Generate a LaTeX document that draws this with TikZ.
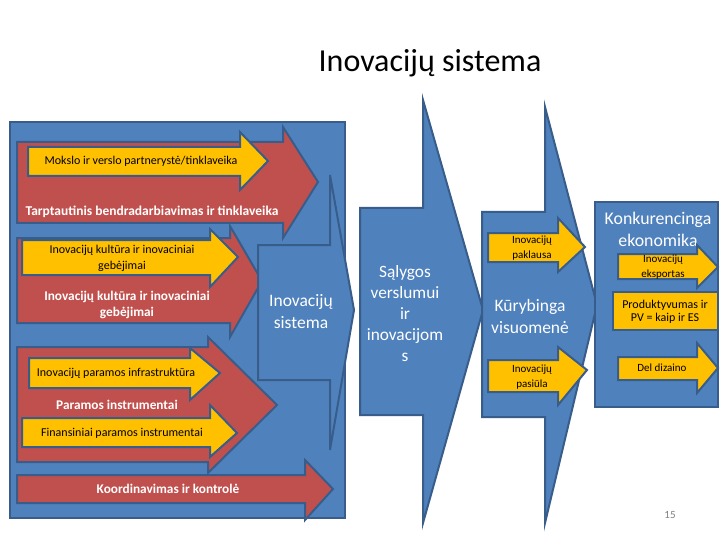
\documentclass[tikz,border=0pt]{standalone}
\usepackage{fontspec}
\setmainfont{Carlito}
\definecolor{bfill}{HTML}{4F81BD}
\definecolor{bline}{HTML}{385D8A}
\definecolor{rfill}{HTML}{C0504D}
\definecolor{yfill}{HTML}{FFC000}
\tikzset{
  bluesh/.style={fill=bfill,draw=bline,line width=2pt,line join=miter},
  redsh/.style={fill=rfill,draw=bline,line width=2pt,line join=miter},
  yelsh/.style={fill=yfill,draw=bline,line width=2pt,line join=miter},
  wtxt/.style={text=white,align=center,inner sep=0pt},
  btxt/.style={text=black,align=center,inner sep=0pt},
}
% style, x1, ytop, x2, ybot, headtop, headbot, tipx, tipy
\newcommand{\blockarrow}[9]{%
  \draw[#1] (#2,#3) -- (#4,#3) -- (#4,#6) -- (#8,#9) -- (#4,#7) -- (#4,#5) -- (#2,#5) -- cycle;}
\begin{document}
\begin{tikzpicture}[x=1pt,y=-1pt]
\useasboundingbox (0,0) rectangle (720,540);
\fill[white] (0,0) rectangle (720,540);
\node[text=black,inner sep=0pt,font=\fontsize{32}{36}\selectfont] (title) at (430,63) {Inovacijų sistema};
% left big box
\draw[bluesh] (10,122) rectangle (345,518);
% red arrows
\blockarrow{redsh}{17}{142}{283}{223}{127}{238}{318}{182}
\blockarrow{redsh}{17}{238}{230}{323}{226}{337}{262}{281}
\blockarrow{redsh}{17}{347}{208}{462}{337}{473}{277}{405}
\blockarrow{redsh}{17}{475}{305}{503}{460}{520}{333}{489}
% inner blue arrow
\blockarrow{bluesh}{258}{245}{330}{380}{175}{450}{354}{310}
% yellow arrows
\blockarrow{yelsh}{28}{147}{240}{176}{132}{190}{268}{161}
\blockarrow{yelsh}{22}{240}{210}{275}{229}{287}{238}{257}
\blockarrow{yelsh}{29}{358}{190}{388}{348}{400}{220}{373}
\blockarrow{yelsh}{22}{418}{210}{447}{405}{457}{237}{433}
% texts left
\node[btxt,font=\fontsize{12}{13}\selectfont] (t1) at (141,161) {Mokslo ir verslo partnerystė/tinklaveika};
\node[wtxt,font=\fontsize{13.5}{15}\selectfont\bfseries] (t2) at (152,212) {Tarptautinis bendradarbiavimas ir tinklaveika};
\node[btxt,font=\fontsize{12}{16}\selectfont] (t3) at (122,258) {Inovacijų kultūra ir inovaciniai\\gebėjimai};
\node[wtxt,font=\fontsize{13.3}{16}\selectfont\bfseries] (t4) at (127,305) {Inovacijų kultūra ir inovaciniai\\gebėjimai};
\node[btxt,font=\fontsize{12}{13}\selectfont] (t5) at (116,373) {Inovacijų paramos infrastruktūra};
\node[wtxt,font=\fontsize{13.3}{15}\selectfont\bfseries] (t6) at (117,405) {Paramos instrumentai};
\node[btxt,font=\fontsize{12}{13}\selectfont] (t7) at (122,433) {Finansiniai paramos instrumentai};
\node[wtxt,font=\fontsize{13.3}{15}\selectfont\bfseries] (t8) at (168,489) {Koordinavimas ir kontrolė};
\node[wtxt,font=\fontsize{17.5}{22}\selectfont] (t9) at (301,312) {Inovacijų\\sistema};
% Salygos arrow
\blockarrow{bluesh}{360}{208}{423}{415}{100}{523}{483}{310}
\node[wtxt,font=\fontsize{17.3}{21}\selectfont] (t10) at (405,314) {Sąlygos\\verslumui\\ir\\inovacijom\\s};
% Kurybinga arrow
\blockarrow{bluesh}{482}{212}{545}{417}{107}{523}{597}{305}
\blockarrow{yelsh}{488}{233}{558}{262}{218}{272}{585}{247}
\blockarrow{yelsh}{488}{360}{558}{392}{347}{405}{587}{370}
\node[btxt,font=\fontsize{11}{15}\selectfont] (t11) at (532,248) {Inovacijų\\paklausa};
\node[btxt,font=\fontsize{11}{15}\selectfont] (t12) at (532,377) {Inovacijų\\pasiūla};
\node[wtxt,font=\fontsize{17.5}{22}\selectfont] (t13) at (530,316) {Kūrybinga\\visuomenė};
% Konkurencinga box
\draw[bluesh] (595,202) rectangle (718,407);
\node[wtxt,font=\fontsize{17.8}{22}\selectfont] (t14) at (658,229) {Konkurencinga\\ekonomika};
\blockarrow{yelsh}{618}{254}{697}{279}{245}{288}{718}{267}
\draw[yelsh] (613,292) rectangle (718,330);
\blockarrow{yelsh}{618}{357}{697}{380}{343}{393}{718}{368}
\node[btxt,font=\fontsize{11}{15}\selectfont] (t15) at (663,267) {Inovacijų\\eksportas};
\node[btxt,font=\fontsize{12}{13}\selectfont] (t16) at (665,312) {Produktyvumas ir\\PV = kaip ir ES};
\node[btxt,font=\fontsize{11}{13}\selectfont] (t17) at (662,368) {Del dizaino};
\node[text=gray,inner sep=0pt,font=\fontsize{11}{13}\selectfont] (pg) at (670,515) {15};
\end{tikzpicture}
\end{document}
